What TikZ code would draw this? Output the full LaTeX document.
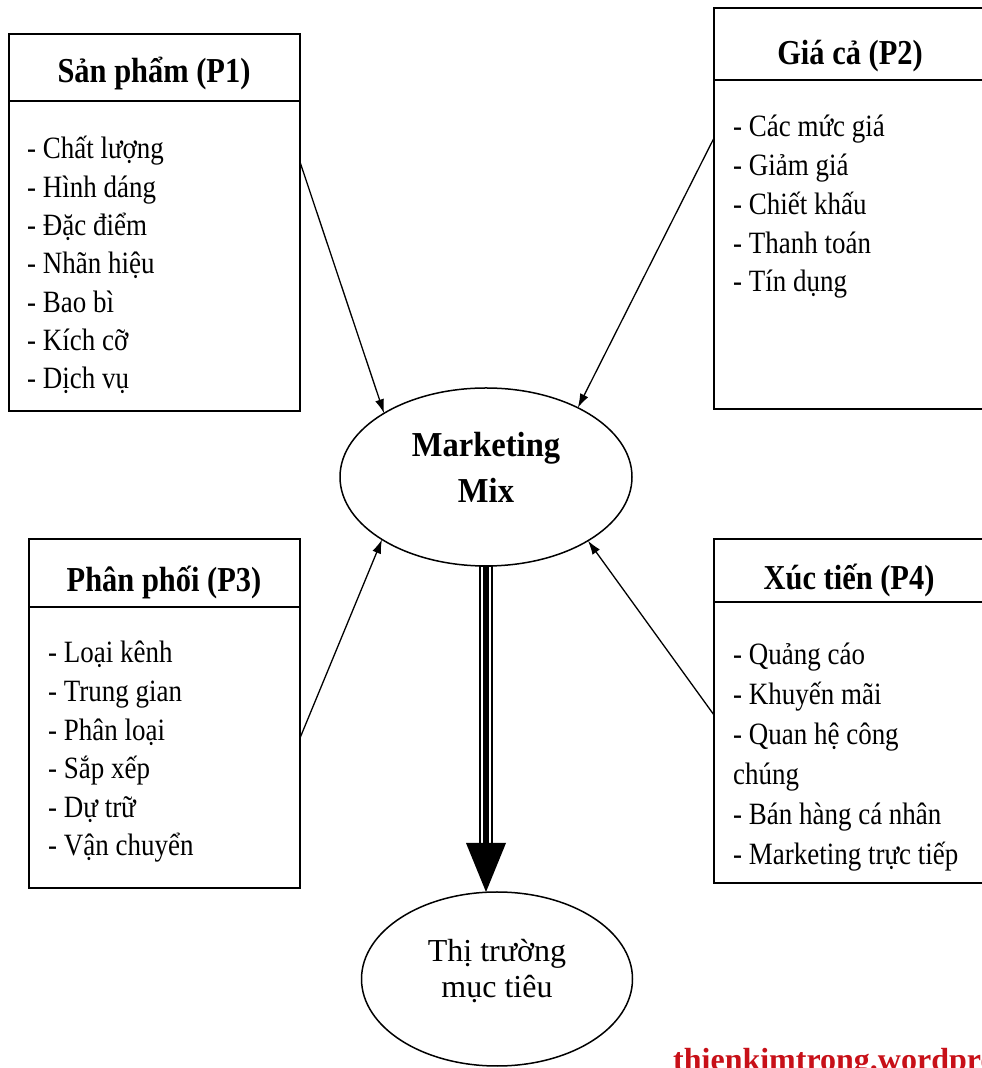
\documentclass[tikz,border=0pt]{standalone}
\usepackage{fontspec}
\setmainfont{Liberation Serif}
\newfontfamily\boxfont[FakeStretch=0.87]{Liberation Serif}
\newfontfamily\ellfont[FakeStretch=0.93]{Liberation Serif}
\usetikzlibrary{arrows.meta,shapes.geometric,calc}
\definecolor{wmred}{RGB}{200,16,24}
\tikzset{
 boxnode/.style={draw=black, line width=2pt, rectangle, inner sep=0pt, outer sep=0pt, anchor=south west},
 divline/.style={line width=1.8pt},
 titletxt/.style={anchor=base, inner sep=0pt, font=\boxfont\bfseries\fontsize{35}{42}\selectfont},
 itemtxt/.style={anchor=base west, inner sep=0pt, font=\boxfont\fontsize{31}{36}\selectfont},
 ellnode/.style={draw, ellipse, line width=1.5pt, inner sep=0pt, outer sep=0pt},
 mmtxt/.style={anchor=base, inner sep=0pt, font=\ellfont\bfseries\fontsize{35}{42}\selectfont},
 tmtxt/.style={anchor=base, inner sep=0pt, font=\fontsize{32}{38}\selectfont},
 thinarrow/.style={line width=1.3pt, -{Latex[length=14pt,width=9pt]}},
}
\begin{document}
\begin{tikzpicture}[x=1pt,y=1pt]
\clip (0,0) rectangle (982,1068);
\fill[white] (0,0) rectangle (982,1068);

% ---- Box P1
\node[boxnode, minimum width=291, minimum height=377] (p1) at (9,657) {};
\draw[divline] (p1.west |- 0,967) -- (p1.east |- 0,967);
\node[titletxt] (p1t) at (154,985) {Sản phẩm (P1)};
\foreach \t [count=\i] in {- Chất lượng,- Hình dáng,- Đặc điểm,- Nhãn hiệu,- Bao bì,- Kích cỡ,- Dịch vụ}
  \node[itemtxt] (p1i\i) at (27,{909-38.3*(\i-1)}) {\t};
\coordinate (p1out) at (p1.east |- 0,906);

% ---- Box P2
\node[boxnode, minimum width=300, minimum height=401] (p2) at (714,659) {};
\draw[divline] (p2.west |- 0,988) -- (p2.east |- 0,988);
\node[titletxt] (p2t) at (850,1003) {Giá cả (P2)};
\foreach \t [count=\i] in {- Các mức giá,- Giảm giá,- Chiết khấu,- Thanh toán,- Tín dụng}
  \node[itemtxt] (p2i\i) at (733,{931-38.75*(\i-1)}) {\t};
\coordinate (p2out) at (p2.west |- 0,930);

% ---- Box P3
\node[boxnode, minimum width=271, minimum height=349] (p3) at (29,180) {};
\draw[divline] (p3.west |- 0,461) -- (p3.east |- 0,461);
\node[titletxt] (p3t) at (164,476) {Phân phối (P3)};
\foreach \t [count=\i] in {- Loại kênh,- Trung gian,- Phân loại,- Sắp xếp,- Dự trữ,- Vận chuyển}
  \node[itemtxt] (p3i\i) at (48,{405-38.6*(\i-1)}) {\t};
\coordinate (p3out) at (p3.east |- 0,330);

% ---- Box P4
\node[boxnode, minimum width=300, minimum height=344] (p4) at (714,185) {};
\draw[divline] (p4.west |- 0,466) -- (p4.east |- 0,466);
\node[titletxt] (p4t) at (849,478) {Xúc tiến (P4)};
\foreach \t [count=\i] in {- Quảng cáo,- Khuyến mãi,- Quan hệ công,chúng,- Bán hàng cá nhân,- Marketing trực tiếp}
  \node[itemtxt] (p4i\i) at (733,{403-40*(\i-1)}) {\t};
\coordinate (p4out) at (p4.west |- 0,353);

% ---- Ellipses
\node[ellnode, minimum width=292, minimum height=178] (mm) at (486,591) {};
\node[mmtxt] (mmt1) at (486,611) {Marketing};
\node[mmtxt] (mmt2) at (486,565) {Mix};

\node[ellnode, minimum width=271, minimum height=174] (tm) at (497,89) {};
\node[tmtxt] (tmt1) at (497,106) {Thị trường};
\node[tmtxt] (tmt2) at (497,70) {mục tiêu};

% ---- Thin arrows
\draw[thinarrow] (p1out) -- (mm.148.5);
\draw[thinarrow] (p2out) -- (mm.37.9);
\draw[thinarrow] (p3out) -- (mm.211.9);
\draw[thinarrow] (p4out) -- (mm.328.7);

% ---- Main triple arrow
\coordinate (tip) at (mm.south |- 0,176);
\coordinate (hb) at (mm.south |- 0,225);
\draw[line width=14pt] (mm.south) -- ($(hb)+(0,-2)$);
\draw[white, line width=10pt] ([yshift=-1pt]mm.south) -- (hb);
\draw[line width=6pt] (mm.south) -- (hb);
\fill ($(hb)+(-20,0)$) -- (tip) -- ($(hb)+(20,0)$) -- cycle;

% ---- Watermark
\node[anchor=base west, inner sep=0pt, text=wmred, font=\bfseries\fontsize{32}{36}\selectfont] (wm) at (673,-2) {thienkimtrong.wordpress.com};
\end{tikzpicture}
\end{document}
